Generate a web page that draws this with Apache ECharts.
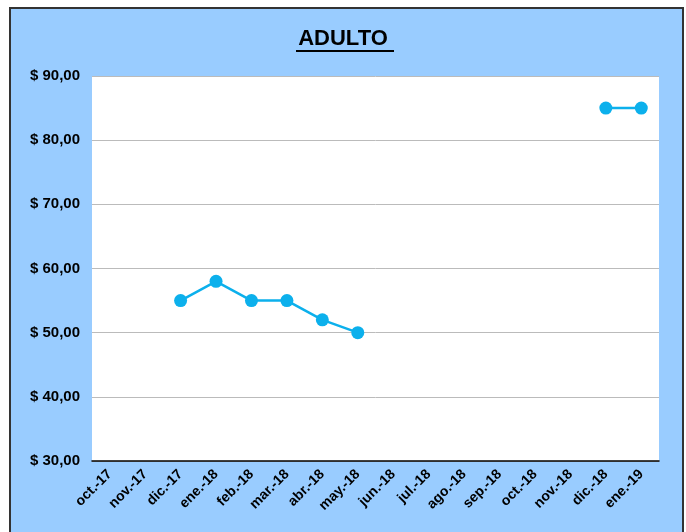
<!DOCTYPE html>
<html>
<head>
<meta charset="utf-8">
<script src="https://cdn.jsdelivr.net/npm/echarts@6/dist/echarts.min.js"></script>
<style>
  body { margin: 0; background: #fff; }
  .frame {
    position: absolute; left: 9px; top: 7px; width: 671px; height: 540px;
    background: #99ccff; border: 2px solid #333;
  }
  .chart { position: absolute; left: 0; top: 0; width: 686px; height: 532px; }
</style>
</head>
<body>
<div class="frame"></div>
<div class="chart"></div>
<script>
// 数据
var months = ['oct.-17', 'nov.-17', 'dic.-17', 'ene.-18', 'feb.-18', 'mar.-18', 'abr.-18', 'may.-18',
  'jun.-18', 'jul.-18', 'ago.-18', 'sep.-18', 'oct.-18', 'nov.-18', 'dic.-18', 'ene.-19'];
var precios = [null, null, 55, 58, 55, 55, 52, 50, null, null, null, null, null, null, 85, 85];
var yMin = 30, yMax = 90, yStep = 10;

(function () {
  var myChart = echarts.init(document.querySelector('.chart'));
  var option = {
    backgroundColor: 'transparent',
    animation: false,
    graphic: [
      {
        type: 'text', left: 'center', top: 28,
        style: { text: 'ADULTO', fontSize: 22, fontWeight: 'bold', fontFamily: 'Liberation Sans, Arial', fill: '#000' }
      },
      {
        type: 'rect', shape: { x: 296, y: 50, width: 98, height: 2 },
        style: { fill: '#000' }
      }
    ],
    grid: {
      left: 92, top: 76, width: 567, height: 385,
      show: true, backgroundColor: '#fff', borderWidth: 0
    },
    xAxis: {
      type: 'category',
      data: months,
      boundaryGap: true,
      axisTick: { show: false },
      axisLine: { lineStyle: { color: '#000', width: 1.5 } },
      axisLabel: {
        interval: 0, rotate: 45, margin: 11,
        color: '#000', fontWeight: 'bold', fontSize: 14, fontFamily: 'Liberation Sans, Arial'
      }
    },
    yAxis: {
      type: 'value',
      min: yMin, max: yMax, interval: yStep,
      axisLine: { show: false },
      axisTick: { show: false },
      axisLabel: {
        margin: 12, color: '#000', fontWeight: 'bold', fontSize: 15, fontFamily: 'Liberation Sans, Arial',
        formatter: function (v) { return '$ ' + v.toFixed(2).replace('.', ','); }
      },
      splitLine: { lineStyle: { color: '#bbb', width: 1 } }
    },
    series: [
      {
        name: 'ADULTO',
        type: 'line',
        data: precios,
        connectNulls: false,
        symbol: 'circle',
        symbolSize: 13,
        lineStyle: { color: '#0cb0ec', width: 2.5 },
        itemStyle: { color: '#0cb0ec' }
      }
    ]
  };
  myChart.setOption(option);
  window.addEventListener('resize', function () {
    myChart.resize();
  });
})();
</script>
</body>
</html>
